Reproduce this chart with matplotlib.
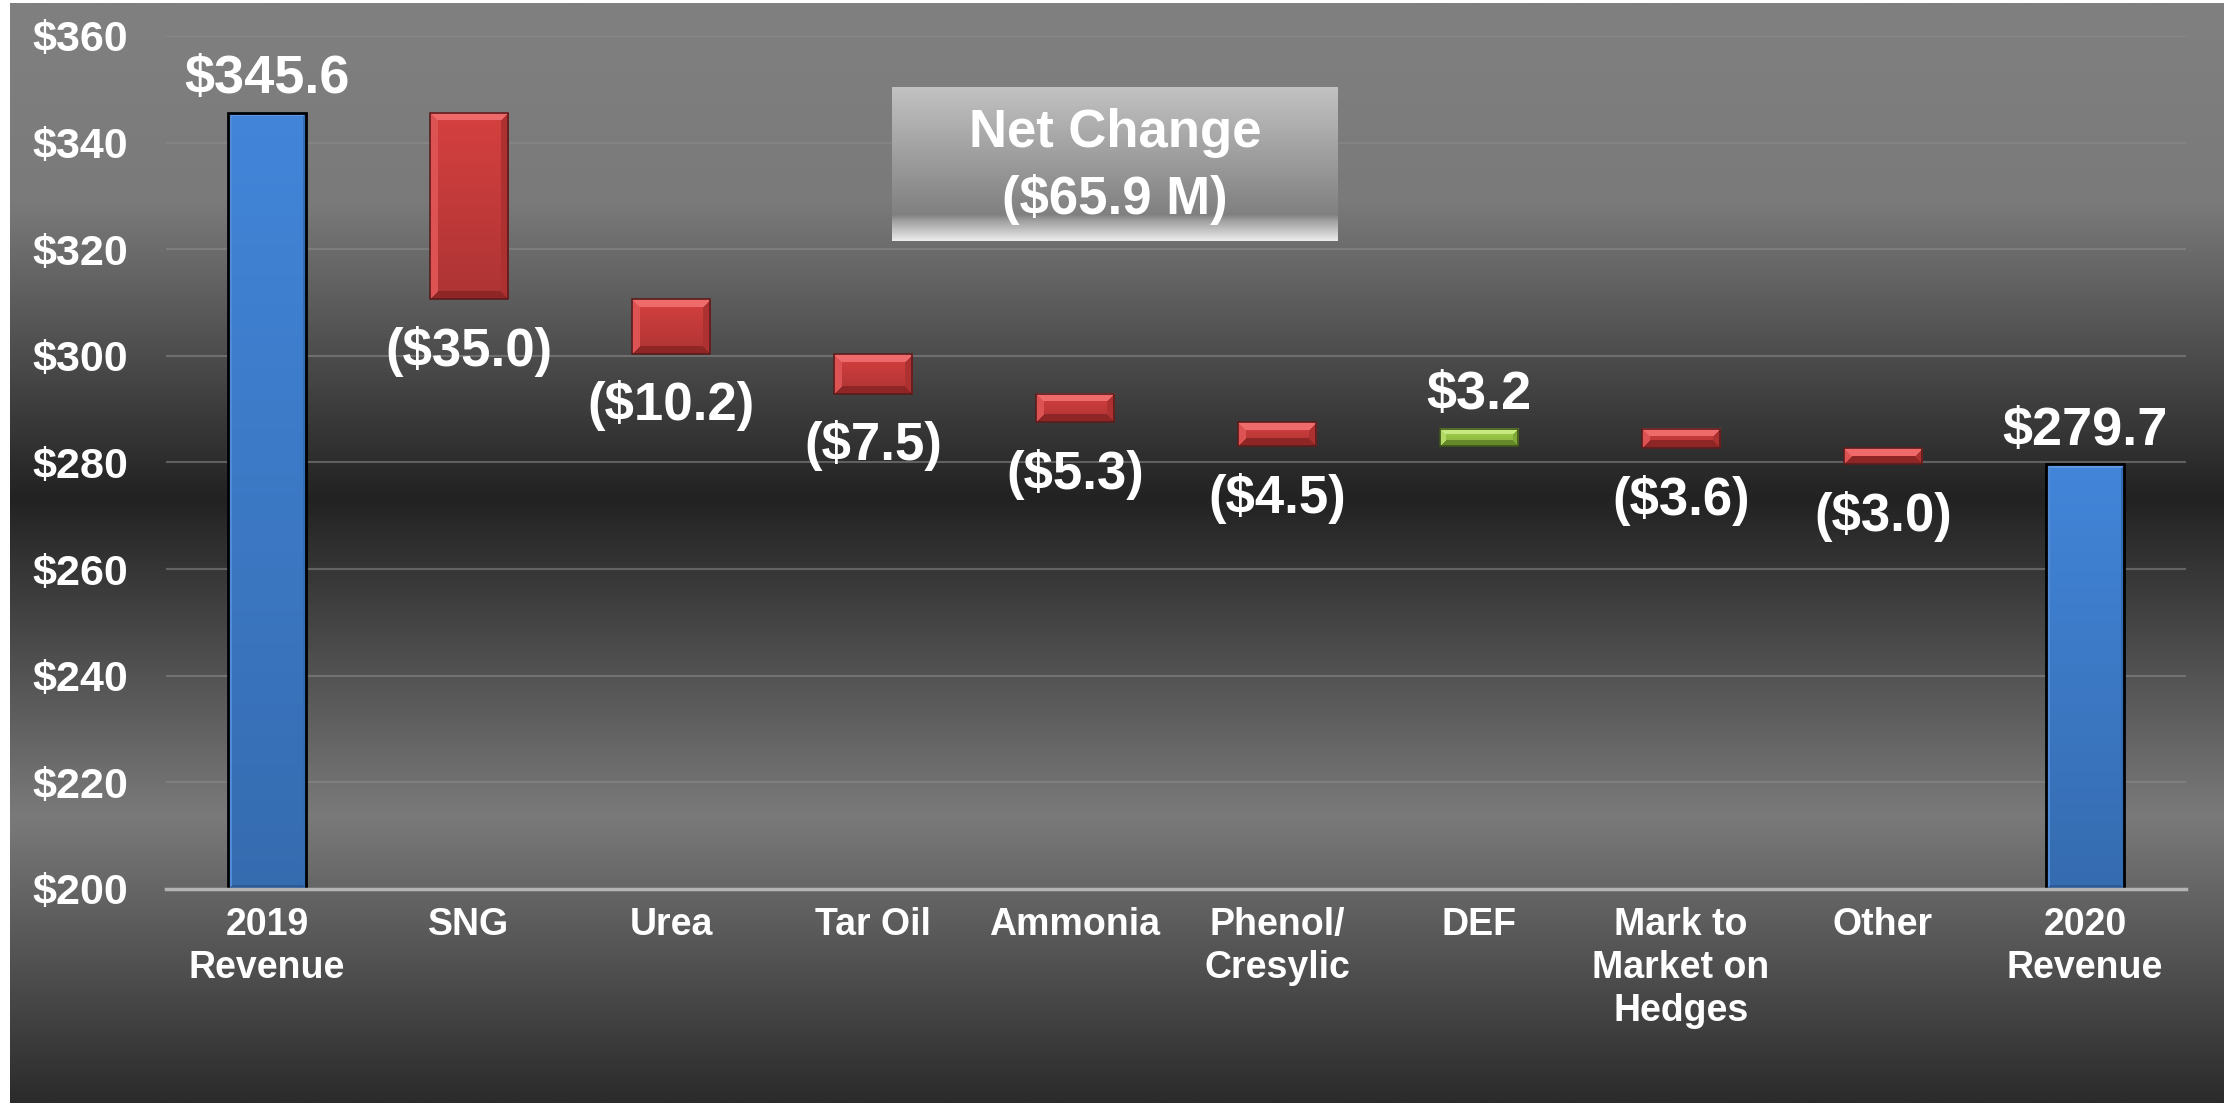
import numpy as np
import matplotlib.pyplot as plt
from matplotlib.colors import LinearSegmentedColormap, to_rgb

plt.rcParams['font.family'] = ['Liberation Sans', 'DejaVu Sans']
plt.rcParams['font.weight'] = 'bold'

# data
categories = ['2019\nRevenue', 'SNG', 'Urea', 'Tar Oil', 'Ammonia',
              'Phenol/\nCresylic', 'DEF', 'Mark to\nMarket on\nHedges',
              'Other', '2020\nRevenue']
start_total = 345.6
changes = [-35.0, -10.2, -7.5, -5.3, -4.5, 3.2, -3.6, -3.0]
end_total = 279.7
net_change = -65.9
y_ticks = [200, 220, 240, 260, 280, 300, 320, 340, 360]

W, H = 2224, 1103
fig = plt.figure(figsize=(W / 100, H / 100), dpi=100)
fig.patch.set_facecolor('white')

# background gradient (white strip on left and top)
bg = fig.add_axes([10 / W, 0, 1 - 10 / W, 1 - 3 / H], zorder=-10)
bg_cmap = LinearSegmentedColormap.from_list('bg', [
    (0.0, '#808080'), (0.18, '#7a7a7a'), (0.45, '#222222'),
    (0.74, '#7a7a7a'), (1.0, '#2b2b2b')])
bg.imshow(np.linspace(0, 1, 512)[:, None], aspect='auto', cmap=bg_cmap,
          extent=[0, 1, 0, 1], origin='upper')
bg.axis('off')

ax = fig.add_axes([166 / W, (H - 889) / H, (2186 - 166) / W, (889 - 36) / H])
ax.patch.set_alpha(0)

n = len(categories)
x = np.arange(n)
levels = start_total + np.cumsum(changes)
prev = np.concatenate([[start_total], levels[:-1]])

bottoms = [0] + list(np.minimum(prev, levels)) + [0]
heights = [start_total] + list(np.abs(changes)) + [end_total]
kinds = ['total'] + ['up' if c > 0 else 'down' for c in changes] + ['total']

styles = {
    'total': dict(base='#3f7fcf', light='#5f98e0', dark='#2a5a98', edge='black', lw=2.0, bev=4),
    'down': dict(base='#cc3d3d', light='#ef6a6a', dark='#8f2626', edge='#5a1c1c', lw=1.2, bev=8),
    'up': dict(base='#9ccc48', light='#c8e880', dark='#64882a', edge='#3f5518', lw=1.2, bev=6),
}

bar_w = 0.39
ax.set_xlim(-0.5, n - 0.5)
ax.set_ylim(200, 360)

bars = ax.bar(x, heights, bar_w, bottom=bottoms, zorder=3, color='none')


def bevel_image(wp, hp, st):
    base = np.array(to_rgb(st['base']))
    light = np.array(to_rgb(st['light']))
    dark = np.array(to_rgb(st['dark']))
    yy, xx = np.mgrid[0:hp, 0:wp]
    t = (yy / max(hp - 1, 1))[..., None]
    img = base * (1.05 - 0.2 * t)
    img = np.clip(img, 0, 1)
    b = st['bev']
    d = np.stack([yy, xx, wp - 1 - xx, hp - 1 - yy])
    side = np.argmin(d, axis=0)
    near = d.min(axis=0) < b
    shade = [light, 0.5 * (light + base), 0.5 * (dark + base), dark]
    for k in range(4):
        m = near & (side == k)
        img[m] = shade[k]
    return img


fig.canvas.draw()
for patch, kind in zip(bars.patches, kinds):
    st = styles[kind]
    x0, y0 = patch.get_x(), max(patch.get_y(), 200)
    x1, y1 = x0 + patch.get_width(), patch.get_y() + patch.get_height()
    p0 = ax.transData.transform((x0, y0))
    p1 = ax.transData.transform((x1, y1))
    wp, hp = int(round(p1[0] - p0[0])), max(int(round(p1[1] - p0[1])), 2)
    ax.imshow(bevel_image(wp, hp, st), extent=[x0, x1, y0, y1],
              aspect='auto', origin='upper', zorder=3, interpolation='nearest')
    patch.set_edgecolor(st['edge'])
    patch.set_linewidth(st['lw'])
    patch.set_zorder(4)

ax.set_xlim(-0.5, n - 0.5)
ax.set_ylim(200, 360)

# value labels
values = [start_total] + changes + [end_total]
for i, (v, kind) in enumerate(zip(values, kinds)):
    top = bottoms[i] + heights[i]
    if kind == 'down':
        txt = f'(${abs(v):.1f})'
        ax.annotate(txt, (x[i], bottoms[i]), xytext=(0, -48), textcoords='offset points',
                    ha='center', va='baseline', color='white', fontsize=38,
                    fontweight='bold', zorder=6)
    else:
        txt = f'${v:.1f}'
        ax.annotate(txt, (x[i], top), xytext=(0, 14), textcoords='offset points',
                    ha='center', va='baseline', color='white', fontsize=39,
                    fontweight='bold', zorder=6)

# axes styling
ax.set_yticks(y_ticks)
ax.set_yticklabels([f'${t}' for t in y_ticks])
ax.set_xticks(x)
ax.set_xticklabels(categories, linespacing=1.25)
ax.tick_params(axis='y', length=0, pad=27, labelsize=31, labelcolor='white')
ax.tick_params(axis='x', length=0, pad=13, labelsize=27, labelcolor='white')
for lab in ax.get_xticklabels() + ax.get_yticklabels():
    lab.set_fontweight('bold')
for s in ['top', 'right', 'left']:
    ax.spines[s].set_visible(False)
ax.spines['bottom'].set_color('#b4b4b4')
ax.spines['bottom'].set_linewidth(2.5)
ax.spines['bottom'].set_zorder(5)
ax.grid(axis='y', color='#8c8c8c', linewidth=1.5, alpha=0.55, zorder=0)
ax.set_axisbelow(True)

# net change box
box = fig.add_axes([892 / W, (H - 241) / H, 446 / W, 154 / H], zorder=5)
box_cmap = LinearSegmentedColormap.from_list('box', [
    (0.0, '#c2c2c2'), (0.5, '#9a9a9a'), (0.83, '#808080'),
    (0.87, '#a0a0a0'), (1.0, '#ececec')])
box.imshow(np.linspace(0, 1, 256)[:, None], aspect='auto', cmap=box_cmap,
           extent=[0, 1, 0, 1], origin='upper')
box.axis('off')
box.text(0.5, 0.70, 'Net Change', ha='center', va='center', color='white',
         fontsize=38, fontweight='bold', transform=box.transAxes)
box.text(0.5, 0.27, f'(${abs(net_change):.1f} M)', ha='center', va='center',
         color='white', fontsize=38, fontweight='bold', transform=box.transAxes)

plt.savefig('out.png', dpi=100)
